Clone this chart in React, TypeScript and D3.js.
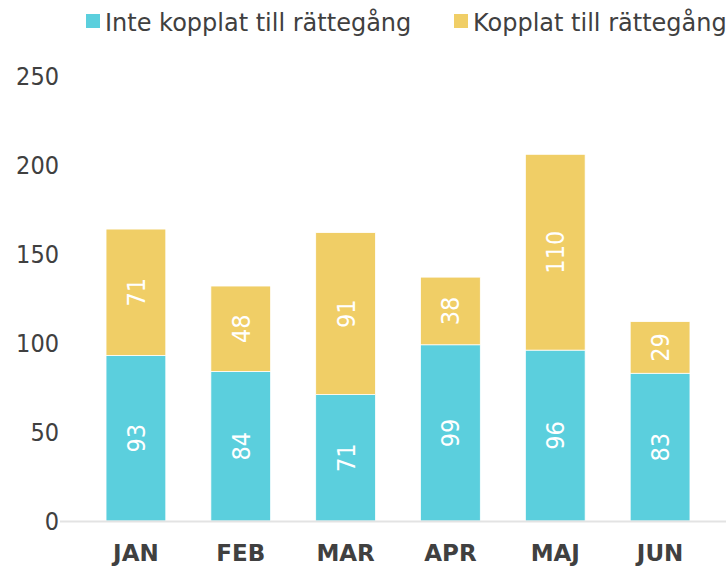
import React from "react";
import * as d3 from "d3";

const months = ["JAN", "FEB", "MAR", "APR", "MAJ", "JUN"];
const notLinked = [93, 84, 71, 99, 96, 83];
const linked = [71, 48, 91, 38, 110, 29];
const yTicks = [0, 50, 100, 150, 200, 250];
const seriesNames = ["Inte kopplat till rättegång", "Kopplat till rättegång"];
const colors = ["#5BCFDD", "#F0CE66"];

export default function App() {
  const W = 726, H = 567;
  const x = d3.scaleBand<string>().domain(months).range([83.5, 712.5]).paddingInner(0.43).paddingOuter(0.215);
  const y = d3.scaleLinear().domain([0, 250]).range([521, 76]);
  const cond = "'DejaVu Sans Condensed', 'DejaVu Sans', sans-serif";
  const reg = "'DejaVu Sans', sans-serif";
  const rows = months.map((m, i) => ({ m, a: notLinked[i], b: linked[i] }));
  const stack = d3.stack<any>().keys(["a", "b"])(rows);
  return (
    <svg width={W} height={H} style={{ position: "absolute", left: 0, top: 0 }} fontFamily={reg}>
      <g>
        <rect x={86} y={14} width={14} height={14} fill={colors[0]} />
        <text x={105} y={30.5} fontSize={24} fill="#404040">{seriesNames[0]}</text>
        <rect x={454} y={14} width={14} height={14} fill={colors[1]} />
        <text x={473} y={30.5} fontSize={24} fill="#404040">{seriesNames[1]}</text>
      </g>
      {yTicks.map(t => (
        <text key={t} x={59} y={y(t)} dy="0.36em" textAnchor="end" fontSize={25} fontFamily={cond} fill="#404040">{t}</text>
      ))}
      {stack.map((s, si) => (
        <g key={si}>
          {s.map((d, i) => {
            const x0 = x(months[i])!;
            const bw = x.bandwidth();
            const top = y(d[1]), bot = y(d[0]);
            const cx = x0 + bw / 2, cy = (top + bot) / 2;
            const v = d[1] - d[0];
            return (
              <g key={i}>
                <rect x={x0} y={top} width={bw} height={bot - top} fill={colors[si]} stroke="#fff" strokeWidth={0.75} />
                <text transform={`translate(${cx},${cy}) rotate(-90)`} textAnchor="middle" dy="0.36em" fontSize={25} fontFamily={cond} fill="#fff">{v}</text>
              </g>
            );
          })}
        </g>
      ))}
      <line x1={60} x2={726} y1={521.5} y2={521.5} stroke="#e3e3e3" strokeWidth={2} />
      {months.map(m => (
        <text key={m} x={x(m)! + x.bandwidth() / 2} y={561} textAnchor="middle" fontSize={23} fontWeight="bold" fill="#404040">{m}</text>
      ))}
    </svg>
  );
}
